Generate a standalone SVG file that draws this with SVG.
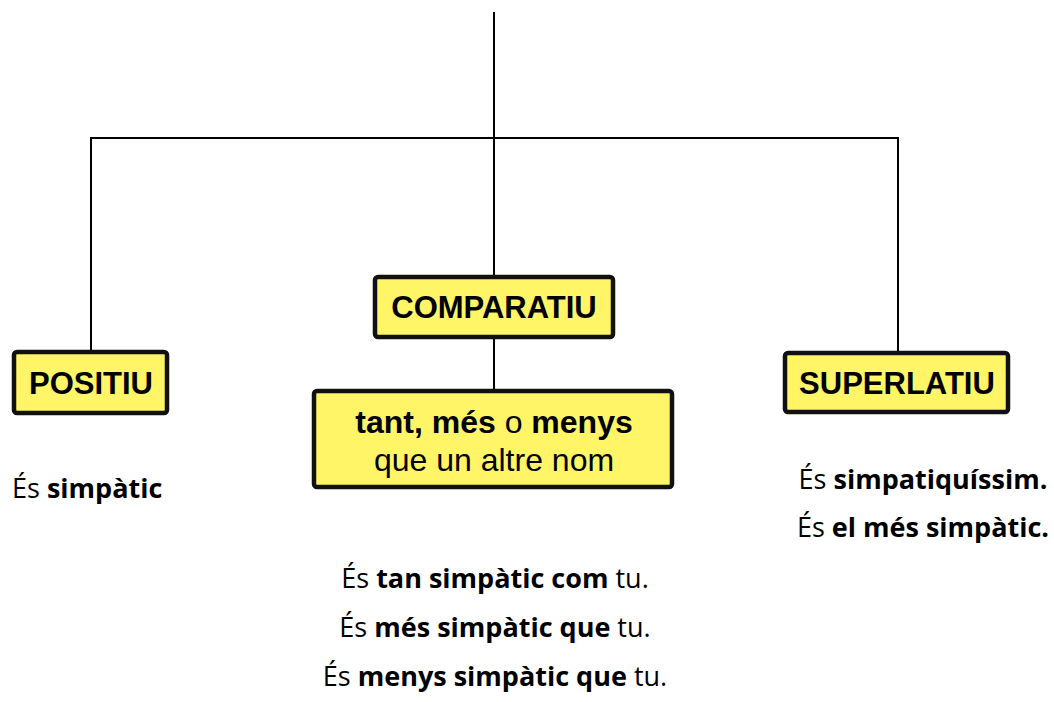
<svg xmlns="http://www.w3.org/2000/svg" width="1054" height="702" viewBox="0 0 1054 702">
<style>
.box{fill:#fff566;stroke:#111;stroke-width:4.5;stroke-linejoin:round}
.lbl{font-family:"Liberation Sans",Arial,sans-serif;font-weight:bold;font-size:31px;fill:#000;text-anchor:middle}
.mid{font-family:"Liberation Sans",Arial,sans-serif;font-size:32px;fill:#000;text-anchor:middle}
.ex{font-family:"Open Sans","Liberation Sans",sans-serif;font-size:27px;fill:#000;text-anchor:middle}
.exl{font-family:"Open Sans","Liberation Sans",sans-serif;font-size:27px;fill:#000;text-anchor:start}
.b{font-weight:bold}
.line{stroke:#000;stroke-width:2;fill:none}
</style>
<rect width="1054" height="702" fill="#fff"/>
<g id="connectors">
<line class="line" x1="494" y1="12" x2="494" y2="280"/>
<polyline class="line" points="91,352 91,138 898,138 898,352"/>
<line class="line" x1="494" y1="336" x2="494" y2="392"/>
</g>
<g id="positiu">
<rect class="box" x="14" y="352" width="153" height="61" rx="3"/>
<text class="lbl" x="91" y="394">POSITIU</text>
</g>
<g id="comparatiu">
<rect class="box" x="375" y="277" width="238" height="60" rx="3"/>
<text class="lbl" x="494" y="318">COMPARATIU</text>
</g>
<g id="superlatiu">
<rect class="box" x="785" y="353" width="223" height="59" rx="3"/>
<text class="lbl" x="897" y="394">SUPERLATIU</text>
</g>
<g id="definicio">
<rect class="box" x="314" y="391" width="358" height="96" rx="3"/>
<text class="mid" x="494" y="433"><tspan class="b">tant, més</tspan> o <tspan class="b">menys</tspan></text>
<text class="mid" x="494" y="471">que un altre nom</text>
</g>
<g id="ex-positiu">
<text class="exl" x="12" y="498">És <tspan class="b">simpàtic</tspan></text>
</g>
<g id="ex-superlatiu">
<text class="ex" x="923" y="489">És <tspan class="b">simpatiquíssim.</tspan></text>
<text class="ex" x="923" y="537">És <tspan class="b">el més simpàtic.</tspan></text>
</g>
<g id="ex-comparatiu">
<text class="ex" x="495" y="588">És <tspan class="b">tan simpàtic com</tspan> tu.</text>
<text class="ex" x="495" y="637">És <tspan class="b">més simpàtic que</tspan> tu.</text>
<text class="ex" x="495" y="686">És <tspan class="b">menys simpàtic que</tspan> tu.</text>
</g>
</svg>
